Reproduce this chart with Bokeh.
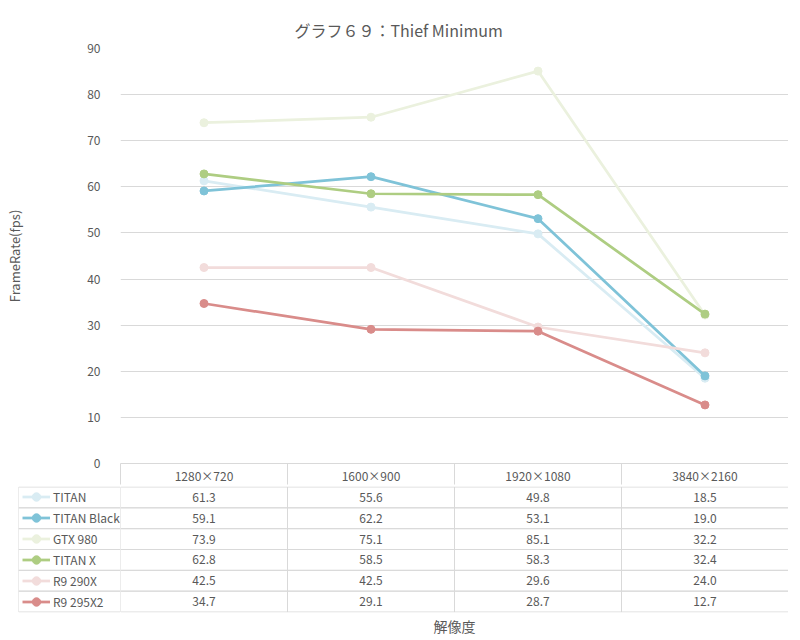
from bokeh.plotting import figure
from bokeh.layouts import column, row
from bokeh.models import (Range1d, FixedTicker, Legend, LegendItem,
                          LinearAxis, ColumnDataSource)
from bokeh.core.properties import value
from bokeh.embed import file_html
from bokeh.resources import INLINE

# ---------------- data ----------------
resolutions = ["1280×720", "1600×900", "1920×1080", "3840×2160"]
series_names = ["TITAN", "TITAN Black", "GTX 980", "TITAN X", "R9 290X", "R9 295X2"]
titan = [61.3, 55.6, 49.8, 18.5]
titan_black = [59.1, 62.2, 53.1, 19.0]
gtx_980 = [73.9, 75.1, 85.1, 32.2]
titan_x = [62.8, 58.5, 58.3, 32.4]
r9_290x = [42.5, 42.5, 29.6, 24.0]
r9_295x2 = [34.7, 29.1, 28.7, 12.7]
y_ticks = [0, 10, 20, 30, 40, 50, 60, 70, 80, 90]
title_text = "グラフ６９：Thief Minimum"
y_title = "FrameRate(fps)"
x_title = "解像度"

series_values = [titan, titan_black, gtx_980, titan_x, r9_290x, r9_295x2]
colors = ["#d9ecf3", "#7fc3d8", "#ebf1de", "#aecd82", "#f2dcdb", "#d98c8a"]

# ---------------- style / layout constants ----------------
FONT = "Noto Sans CJK JP"
TEXT = "#595959"
GRID = "#d9d9d9"
FRAME_W = 668
CHART_H = 415
ROW_PX = 21
LEG_W = 102
LINE_W = 2.75
MARK = 8

n_cat = len(resolutions)
n_rows = len(series_names)
# category slots: each resolution occupies one unit of the x scale, centred on i + 0.5
centers = [i + 0.5 for i in range(n_cat)]
edges = [float(i) for i in range(n_cat + 1)]

# ================= chart =================
p = figure(x_range=Range1d(0, n_cat), y_range=Range1d(0, y_ticks[-1]),
           frame_width=FRAME_W, frame_height=CHART_H,
           min_border_left=120, min_border_right=0, min_border_top=48, min_border_bottom=ROW_PX,
           x_axis_location=None,
           output_backend="svg", toolbar_location=None, title=title_text)
p.outline_line_color = None

p.title.text_font = FONT
p.title.text_font_size = "16px"
p.title.text_font_style = "normal"
p.title.text_color = TEXT
p.title.align = "left"
p.title.offset = 174
p.title.standoff = 13

yax = p.yaxis[0]
yax.ticker = FixedTicker(ticks=y_ticks)
yax.axis_line_color = None
yax.major_tick_line_color = None
yax.minor_tick_line_color = None
yax.major_label_standoff = 14
yax.major_label_text_font = FONT
yax.major_label_text_font_size = "12px"
yax.major_label_text_color = TEXT
yax.axis_label = y_title
yax.axis_label_standoff = 60
yax.axis_label_text_font = FONT
yax.axis_label_text_font_size = "13px"
yax.axis_label_text_font_style = "normal"
yax.axis_label_text_color = TEXT

p.xgrid.visible = False
p.ygrid.ticker = FixedTicker(ticks=y_ticks)
p.ygrid.grid_line_color = GRID

# header row of the data table = category axis (minor ticks draw the cell dividers)
hdr = LinearAxis(ticker=FixedTicker(ticks=centers, minor_ticks=edges),
                 major_label_overrides={c: r for c, r in zip(centers, resolutions)},
                 axis_line_color=GRID, major_tick_in=0, major_tick_out=0,
                 minor_tick_in=0, minor_tick_out=ROW_PX, minor_tick_line_color=GRID,
                 major_label_standoff=3 - ROW_PX, major_label_text_font=FONT,
                 major_label_text_font_size="12px", major_label_text_color=TEXT)
p.add_layout(hdr, "below")

for vals, c in zip(series_values, colors):
    src = ColumnDataSource(dict(x=centers, y=vals))
    p.line("x", "y", source=src, line_width=LINE_W, line_color=c)
    p.scatter("x", "y", source=src, size=MARK, fill_color=c, line_color=c)

# ================= table body =================
pad = 0.5 / ROW_PX
TAB_H = ROW_PX * n_rows
BOT = 22

t = figure(x_range=Range1d(0, n_cat), y_range=Range1d(-pad, n_rows + pad),
           frame_width=FRAME_W, frame_height=TAB_H,
           min_border_left=0, min_border_right=0, min_border_top=0, min_border_bottom=BOT,
           x_axis_location=None, y_axis_location=None,
           output_backend="svg", toolbar_location=None)
t.outline_line_color = None
t.grid.visible = False

cx, cy, ct = [], [], []
for r, vals in enumerate(series_values):
    for xc, v in zip(centers, vals):
        cx.append(xc)
        cy.append(n_rows - r - 0.5)
        ct.append(f"{v:.1f}")
cells = ColumnDataSource(dict(x=cx, y=cy, t=ct))
t.rect("x", "y", width=1, height=1, source=cells,
       fill_alpha=0, line_color=GRID, line_width=1)
t.text("x", "y", text="t", source=cells, text_align="center", text_baseline="middle",
       text_font=value(FONT), text_font_size="12px", text_color=TEXT)

xax = LinearAxis(ticker=FixedTicker(ticks=[]),
                 axis_line_color=None, major_tick_line_color=None,
                 minor_tick_line_color=None, major_label_standoff=0,
                 axis_label=x_title, axis_label_standoff=3,
                 axis_label_text_font=FONT, axis_label_text_font_size="14px",
                 axis_label_text_font_style="normal", axis_label_text_color=TEXT)
t.add_layout(xax, "below")

# ================= legend column =================
lg = figure(x_range=Range1d(0, 1), y_range=Range1d(-pad, n_rows + pad),
            frame_width=LEG_W, frame_height=TAB_H,
            min_border_left=18, min_border_right=0, min_border_top=0, min_border_bottom=BOT,
            x_axis_location=None, y_axis_location=None,
            output_backend="svg", toolbar_location=None)
lg.outline_line_color = None
lg.grid.visible = False

rows_src = ColumnDataSource(dict(y=[n_rows - r - 0.5 for r in range(n_rows)]))
lg.rect(x=0.5, y="y", width=1, height=1, source=rows_src,
        fill_alpha=0, line_color=GRID, line_width=1)

items = []
for name, vals, c in zip(series_names, series_values, colors):
    src = ColumnDataSource(dict(x=centers, y=vals))
    rl = lg.line("x", "y", source=src, line_width=LINE_W, line_color=c, visible=False)
    rs = lg.scatter("x", "y", source=src, size=MARK, fill_color=c, line_color=c, visible=False)
    items.append(LegendItem(label=name, renderers=[rl, rs]))

legend = Legend(items=items, location=(4, 0), orientation="vertical",
                padding=0, margin=0, spacing=0, glyph_height=ROW_PX, glyph_width=28,
                label_height=ROW_PX, label_standoff=3, click_policy="none",
                label_text_font=FONT, label_text_font_size="12px", label_text_color=TEXT,
                border_line_alpha=0, background_fill_alpha=0, inactive_fill_alpha=0)
lg.add_layout(legend)

layout = column(p, row(lg, t, spacing=0), spacing=0)
open("out.html", "w").write(file_html(layout, INLINE))
